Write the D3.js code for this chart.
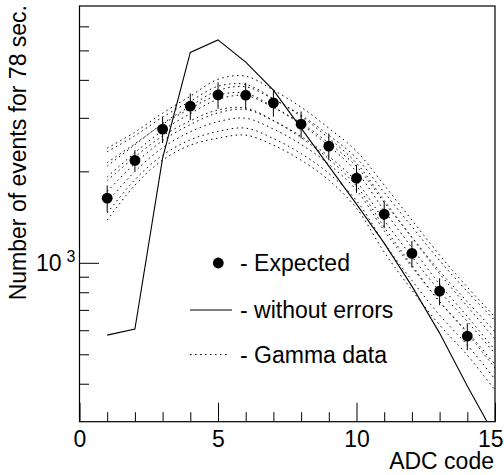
<!DOCTYPE html>
<html>
<head>
<meta charset="utf-8">
<script src="https://cdn.jsdelivr.net/npm/d3@7"></script>
<style>
  html, body { margin: 0; padding: 0; background: #fff; }
  svg { display: block; }
  text { font-family: "Liberation Sans", Arial, Helvetica, sans-serif; fill: #000; }
</style>
</head>
<body>
<svg id="chart" width="504" height="475"></svg>
<script>
// ADC channels of the expected points
var adc = [1, 2, 3, 4, 5, 6, 7, 8, 9, 10, 11, 12, 13, 14];
var expected = [1632, 2172, 2753, 3278, 3569, 3561, 3360, 2859, 2420, 1899, 1446, 1074, 807, 574];
var expectedErr = [165, 175, 275, 330, 355, 350, 335, 290, 245, 200, 145, 105, 82, 58];

// "without errors" curve
var curveX = [1, 2, 3, 4, 5, 6, 7, 8, 9, 10, 11, 12, 13, 14, 15];
var withoutErrors = [578, 605, 2210, 4922, 5415, 4574, 3700, 2774, 2080, 1560, 1161, 838, 587, 393, 269];

// Gamma data curves (dotted)
var gamma1 = [2384, 2692, 3108, 3535, 4017, 4112, 3700, 3252, 2774, 2330, 1801, 1382, 1060, 832, 663];
var gamma2 = [2080, 2447, 2872, 3275, 3689, 3795, 3454, 3062, 2629, 2211, 1705, 1316, 1017, 804, 645];
var gamma3 = [2320, 2619, 3016, 3401, 3810, 3863, 3465, 3032, 2571, 2128, 1604, 1212, 921, 719, 561];
var gamma4 = [1917, 2304, 2725, 3096, 3449, 3551, 3245, 2883, 2477, 2074, 1581, 1214, 939, 745, 594];
var gamma5 = [2137, 2464, 2857, 3217, 3562, 3613, 3254, 2854, 2424, 1994, 1487, 1121, 850, 666, 516];
var gamma6 = [1718, 2121, 2523, 2850, 3115, 3195, 2935, 2607, 2240, 1848, 1378, 1048, 807, 641, 502];
var gamma7 = [1865, 2230, 2615, 2932, 3184, 3232, 2935, 2581, 2196, 1790, 1310, 982, 745, 586, 450];
var gamma8 = [1584, 1997, 2391, 2698, 2914, 2990, 2754, 2454, 2111, 1733, 1276, 968, 745, 593, 463];
var gamma9 = [1459, 1877, 2261, 2539, 2706, 2774, 2565, 2288, 1968, 1602, 1162, 875, 673, 536, 414];
var gamma10 = [1382, 1801, 2177, 2439, 2571, 2631, 2439, 2177, 1871, 1513, 1084, 813, 624, 497, 381];
var gammaCurves = [gamma1, gamma2, gamma3, gamma4, gamma5, gamma6, gamma7, gamma8, gamma9, gamma10];

var xMajorTicks = [0, 5, 10, 15];
var xMinorTicks = [1, 2, 3, 4, 6, 7, 8, 9, 11, 12, 13, 14];
var yMajorTicks = [1000];
var yMinorTicks = [400, 500, 600, 700, 800, 900, 2000, 3000, 4000, 5000, 6000];

var legendItems = ['- Expected', '- without errors', '- Gamma data'];

(function () {
  var svg = d3.select('#chart');
  var left = 79.5, right = 495, top = 6, bottom = 421.7;
  var fs = '23px';

  var x = d3.scaleLinear().domain([0, 15]).range([left, right]);
  var y = d3.scaleLog().domain([300, 7000]).range([bottom, top]);

  svg.append('defs').append('clipPath').attr('id', 'plot-clip')
    .append('rect').attr('x', left).attr('y', top)
    .attr('width', right - left).attr('height', bottom - top);

  var plot = svg.append('g').attr('clip-path', 'url(#plot-clip)');

  // gamma curves
  var smooth = d3.line()
    .x(function (d, i) { return x(curveX[i]); })
    .y(function (d) { return y(d); })
    .curve(d3.curveCatmullRom.alpha(0.5));

  gammaCurves.forEach(function (c) {
    plot.append('path').attr('d', smooth(c))
      .attr('fill', 'none').attr('stroke', '#000')
      .attr('stroke-width', 1).attr('stroke-dasharray', '1.5,3.5');
  });

  // without errors
  var straight = d3.line()
    .x(function (d, i) { return x(curveX[i]); })
    .y(function (d) { return y(d); });
  plot.append('path').attr('d', straight(withoutErrors))
    .attr('fill', 'none').attr('stroke', '#000').attr('stroke-width', 1.1);

  // expected with error bars
  adc.forEach(function (a, i) {
    plot.append('line')
      .attr('x1', x(a)).attr('x2', x(a))
      .attr('y1', y(expected[i] - expectedErr[i])).attr('y2', y(expected[i] + expectedErr[i]))
      .attr('stroke', '#000').attr('stroke-width', 1);
    plot.append('circle')
      .attr('cx', x(a)).attr('cy', y(expected[i])).attr('r', 5.4)
      .attr('fill', '#000');
  });

  // axes
  var xMajor = d3.axisBottom(x).tickValues(xMajorTicks).tickSize(-19).tickPadding(9)
    .tickFormat(d3.format('d'));
  var gx = svg.append('g').attr('transform', 'translate(0,' + bottom + ')').call(xMajor);
  gx.select('.domain').remove();
  gx.selectAll('text').style('font-size', fs).attr('dy', '0.71em');
  // last label sits against the right edge
  gx.selectAll('text').filter(function (d) { return d === 15; })
    .attr('text-anchor', 'end').attr('x', 8);

  var xMinor = d3.axisBottom(x).tickValues(xMinorTicks).tickSize(-9.5).tickFormat('');
  svg.append('g').attr('transform', 'translate(0,' + bottom + ')').call(xMinor)
    .select('.domain').remove();

  var yMajor = d3.axisLeft(y).tickValues(yMajorTicks).tickSize(-19.5).tickFormat('');
  svg.append('g').attr('transform', 'translate(' + left + ',0)').call(yMajor)
    .select('.domain').remove();
  var yMinor = d3.axisLeft(y).tickValues(yMinorTicks).tickSize(-9.5).tickFormat('');
  svg.append('g').attr('transform', 'translate(' + left + ',0)').call(yMinor)
    .select('.domain').remove();

  svg.selectAll('.tick line').attr('stroke', '#000').attr('stroke-width', 1);

  // 10^3 label
  var lab = svg.append('text').attr('x', 36).attr('y', y(1000) + 8)
    .style('font-size', fs);
  lab.append('tspan').text('10');
  lab.append('tspan').attr('dx', 5).attr('dy', -9).style('font-size', '16px').text('3');

  // frame
  svg.append('rect').attr('x', left).attr('y', top)
    .attr('width', right - left).attr('height', bottom - top)
    .attr('fill', 'none').attr('stroke', '#000').attr('stroke-width', 1.2);

  // axis titles
  svg.append('text').attr('x', 494).attr('y', 469)
    .attr('text-anchor', 'end').style('font-size', fs).text('ADC code');
  svg.append('text')
    .attr('transform', 'translate(26,5) rotate(-90)')
    .attr('text-anchor', 'end').style('font-size', fs)
    .text('Number of events for 78 sec.');

  // legend
  var lg = svg.append('g');
  lg.append('circle').attr('cx', 218.3).attr('cy', 263).attr('r', 5.4).attr('fill', '#000');
  lg.append('line').attr('x1', 190).attr('x2', 232).attr('y1', 310).attr('y2', 310)
    .attr('stroke', '#000').attr('stroke-width', 1.1);
  lg.append('line').attr('x1', 190).attr('x2', 230).attr('y1', 354.5).attr('y2', 354.5)
    .attr('stroke', '#000').attr('stroke-width', 1).attr('stroke-dasharray', '1.5,3.5');
  [263, 310, 354.5].forEach(function (ly, i) {
    lg.append('text').attr('x', 240).attr('y', ly + 8)
      .style('font-size', fs).text(legendItems[i]);
  });
})();
</script>
</body>
</html>
